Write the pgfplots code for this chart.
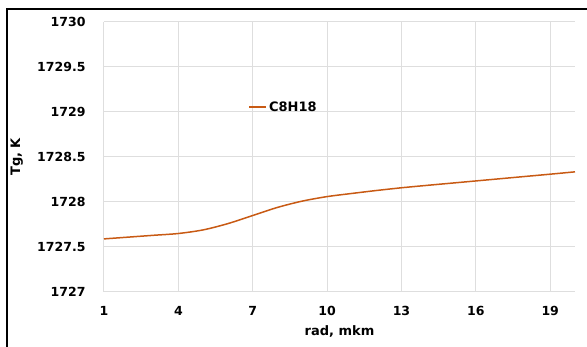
\documentclass[border=0pt]{standalone}
\usepackage{pgfplots}
\pgfplotsset{compat=1.18}
\usepackage{fontspec}
\setmainfont{DejaVu Sans}
\definecolor{curve}{RGB}{200,90,20}
\definecolor{gridc}{RGB}{222,222,222}
\begin{document}
\begin{tikzpicture}[x=1pt,y=1pt]
\useasboundingbox (0,0) rectangle (587,347);
\draw[black, line width=2pt] (7,0) -- (7,337.5) -- (587,337.5);
\begin{axis}[
  at={(104pt,55pt)}, anchor=south west,
  scale only axis, width=471pt, height=270pt,
  xmin=1, xmax=20, ymin=1727, ymax=1730,
  xtick={1,4,7,10,13,16,19},
  xticklabels={1,4,7,10,13,16,19},
  ytick={1727,1727.5,1728,1728.5,1729,1729.5,1730},
  yticklabels={1727,1727.5,1728,1728.5,1729,1729.5,1730},
  /pgf/number format/assume math mode=true,
  major tick length=0pt,
  axis line style={draw=none},
  grid=major,
  major grid style={gridc, line width=1pt},
  tick label style={font=\fontsize{12.5}{14}\selectfont\bfseries},
  yticklabel style={xshift=-15pt},
  xticklabel style={yshift=-11pt},
  xlabel={rad, mkm},
  ylabel={Tg, K},
  every axis x label/.style={at={(axis description cs:0.5,-0.148)}, anchor=center,
    font=\fontsize{13}{15}\selectfont\bfseries},
  every axis y label/.style={at={(axis description cs:-0.185,0.5)}, anchor=center, rotate=90,
    font=\fontsize{13}{15}\selectfont\bfseries},
  legend style={at={(axis description cs:0.30,0.685)}, anchor=west, draw=none, fill=none,
    font=\fontsize{13}{15}\selectfont\bfseries},
  legend cell align=left,
  legend image post style={line width=1.5pt},
]
\addplot[curve, line width=1.5pt, smooth] coordinates {
(1,1727.59) (2,1727.61) (3,1727.63) (4,1727.65) (5,1727.69)
(6,1727.76) (7,1727.85) (8,1727.94) (9,1728.01) (10,1728.06)
(11,1728.095) (12,1728.128) (13,1728.158) (14,1728.184) (15,1728.209)
(16,1728.234) (17,1728.259) (18,1728.284) (19,1728.309) (20,1728.335)
};
\addlegendentry{C8H18}
\end{axis}
\end{tikzpicture}
\end{document}
